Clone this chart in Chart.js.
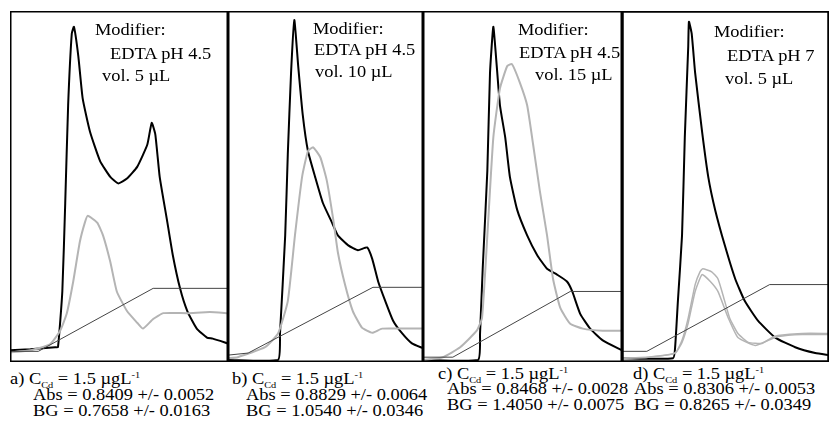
<!DOCTYPE html>
<html>
<head>
<meta charset="utf-8">
<script src="https://cdn.jsdelivr.net/npm/chart.js@4.4.1/dist/chart.umd.min.js"></script>
<style>
  body { margin: 0; background: #fff; }
  #wrap { position: relative; width: 830px; height: 439px; overflow: hidden; }
  .panel { position: absolute; top: 11px; height: 351px; }
  .txt { position: absolute; font-family: "Liberation Serif", "DejaVu Serif", serif; font-size: 16px; line-height: 18px; color: #000; white-space: nowrap; transform: scaleX(1.15); transform-origin: 0 0; }
  .sub { font-size: 9px; position: relative; top: 4px; }
  .sup { font-size: 9px; position: relative; top: -6px; }
</style>
</head>
<body>
<div id="wrap">
  <div class="panel" style="left:10px;width:218px"><canvas id="pA"></canvas></div>
  <div class="panel" style="left:228px;width:195px"><canvas id="pB"></canvas></div>
  <div class="panel" style="left:423px;width:199px"><canvas id="pC"></canvas></div>
  <div class="panel" style="left:622px;width:207px"><canvas id="pD"></canvas></div>

  <div class="txt" style="left:95px;top:21px">Modifier:</div>
  <div class="txt" style="left:110px;top:45px">EDTA pH 4.5</div>
  <div class="txt" style="left:102px;top:67px">vol. 5 µL</div>

  <div class="txt" style="left:313px;top:20px">Modifier:</div>
  <div class="txt" style="left:314px;top:41px">EDTA pH 4.5</div>
  <div class="txt" style="left:315px;top:63px">vol. 10 µL</div>

  <div class="txt" style="left:518px;top:21px">Modifier:</div>
  <div class="txt" style="left:519px;top:44px">EDTA pH 4.5</div>
  <div class="txt" style="left:535px;top:66px">vol. 15 µL</div>

  <div class="txt" style="left:714px;top:23px">Modifier:</div>
  <div class="txt" style="left:727px;top:47px">EDTA pH 7</div>
  <div class="txt" style="left:725px;top:70px">vol. 5 µL</div>

  <div class="txt" style="left:10px;top:370px">a) C<span class="sub">Cd</span> = 1.5 µgL<span class="sup">-1</span></div>
  <div class="txt" style="left:33px;top:386px">Abs = 0.8409 +/- 0.0052</div>
  <div class="txt" style="left:33px;top:402px">BG = 0.7658 +/- 0.0163</div>

  <div class="txt" style="left:232px;top:370px">b) C<span class="sub">Cd</span> = 1.5 µgL<span class="sup">-1</span></div>
  <div class="txt" style="left:246px;top:386px">Abs = 0.8829 +/- 0.0064</div>
  <div class="txt" style="left:246px;top:402px">BG = 1.0540 +/- 0.0346</div>

  <div class="txt" style="left:438px;top:365px">c) C<span class="sub">Cd</span> = 1.5 µgL<span class="sup">-1</span></div>
  <div class="txt" style="left:447px;top:380px">Abs = 0.8468 +/- 0.0028</div>
  <div class="txt" style="left:447px;top:396px">BG = 1.4050 +/- 0.0075</div>

  <div class="txt" style="left:633px;top:365px">d) C<span class="sub">Cd</span> = 1.5 µgL<span class="sup">-1</span></div>
  <div class="txt" style="left:634px;top:380px">Abs = 0.8306 +/- 0.0053</div>
  <div class="txt" style="left:634px;top:396px">BG = 0.8265 +/- 0.0349</div>
</div>

<script>
// time axis (s) and absorbance

// a) pH 4.5, 5 uL
const aBlackT = [0, 0.28, 0.62, 0.66, 0.72, 0.76, 0.80, 0.85, 0.88, 0.94, 1.00, 1.10, 1.24, 1.38, 1.49, 1.61, 1.75, 1.89, 1.95, 2.00, 2.06, 2.16, 2.24, 2.34, 2.44, 2.57, 2.71, 2.79, 3.00];
const aBlackA = [0.034, 0.037, 0.043, 0.043, 0.205, 0.462, 0.746, 0.954, 0.974, 0.889, 0.766, 0.670, 0.584, 0.538, 0.519, 0.533, 0.567, 0.632, 0.695, 0.661, 0.538, 0.413, 0.311, 0.214, 0.148, 0.097, 0.071, 0.068, 0.054];
const aGrayT = [0, 0.28, 0.55, 0.69, 0.78, 0.87, 0.96, 1.03, 1.07, 1.20, 1.28, 1.38, 1.47, 1.61, 1.75, 1.83, 1.97, 2.11, 2.44, 2.75, 3.00];
const aGrayA = [0.028, 0.034, 0.051, 0.091, 0.140, 0.234, 0.348, 0.405, 0.425, 0.405, 0.368, 0.291, 0.205, 0.148, 0.114, 0.097, 0.125, 0.142, 0.142, 0.145, 0.142];
const aRampT = [0, 0.39, 1.97, 3.00];
const aRampA = [0.031, 0.031, 0.214, 0.214];

// b) pH 4.5, 10 uL
const bBlackT = [0, 0.77, 0.80, 0.88, 0.92, 0.97, 1.02, 1.08, 1.15, 1.23, 1.34, 1.46, 1.60, 1.69, 1.85, 2.00, 2.14, 2.22, 2.31, 2.42, 2.54, 2.68, 2.83, 3.00];
const bBlackA = [0.006, 0.006, 0.083, 0.368, 0.604, 0.840, 0.994, 0.860, 0.718, 0.613, 0.538, 0.462, 0.405, 0.368, 0.339, 0.325, 0.333, 0.299, 0.234, 0.177, 0.120, 0.083, 0.054, 0.040];
const bGrayT = [0, 0.15, 0.57, 0.77, 0.92, 1.03, 1.14, 1.23, 1.31, 1.42, 1.52, 1.62, 1.69, 1.80, 1.92, 2.06, 2.22, 2.37, 2.72, 3.00];
const bGrayA = [0.011, 0.014, 0.043, 0.083, 0.177, 0.368, 0.538, 0.613, 0.624, 0.595, 0.527, 0.413, 0.319, 0.225, 0.148, 0.100, 0.085, 0.097, 0.097, 0.097];
const bRampT = [0, 0.31, 2.23, 3.00];
const bRampA = [0.020, 0.026, 0.217, 0.217];

// c) pH 4.5, 15 uL
const cBlackT = [0, 0.83, 0.86, 0.90, 0.97, 1.01, 1.06, 1.10, 1.16, 1.24, 1.31, 1.42, 1.57, 1.72, 1.87, 2.02, 2.17, 2.25, 2.37, 2.52, 2.71, 3.00];
const cBlackA = [0.006, 0.006, 0.083, 0.271, 0.556, 0.840, 0.974, 0.889, 0.746, 0.652, 0.538, 0.442, 0.368, 0.311, 0.271, 0.254, 0.234, 0.205, 0.140, 0.097, 0.063, 0.034];
const cGrayT = [0, 0.30, 0.56, 0.81, 0.89, 0.97, 1.06, 1.16, 1.27, 1.34, 1.46, 1.57, 1.66, 1.76, 1.87, 1.96, 2.07, 2.22, 2.41, 2.71, 3.00];
const cGrayA = [0.006, 0.014, 0.043, 0.091, 0.128, 0.368, 0.652, 0.795, 0.860, 0.866, 0.812, 0.746, 0.632, 0.499, 0.368, 0.242, 0.157, 0.111, 0.097, 0.091, 0.091];
const cRampT = [0, 0.45, 2.22, 3.00];
const cRampA = [0.014, 0.014, 0.205, 0.205];

// d) pH 7, 5 uL
const dBlackT = [0, 0.74, 0.77, 0.81, 0.87, 0.91, 0.96, 0.97, 1.01, 1.06, 1.16, 1.25, 1.35, 1.49, 1.64, 1.78, 1.97, 2.22, 2.51, 2.80, 3.00];
const dBlackA = [0.011, 0.011, 0.043, 0.177, 0.368, 0.652, 0.917, 0.989, 0.954, 0.840, 0.670, 0.538, 0.442, 0.339, 0.242, 0.177, 0.120, 0.071, 0.043, 0.026, 0.020];
const dGray1T = [0, 0.38, 0.77, 0.87, 0.96, 1.06, 1.13, 1.17, 1.30, 1.39, 1.46, 1.56, 1.68, 1.83, 2.03, 2.17, 2.26, 2.61, 3.00];
const dGray1A = [0.011, 0.014, 0.026, 0.063, 0.128, 0.225, 0.262, 0.271, 0.262, 0.242, 0.197, 0.128, 0.083, 0.057, 0.054, 0.071, 0.077, 0.083, 0.083];
const dGray2T = [0, 0.38, 0.77, 0.87, 0.96, 1.06, 1.16, 1.28, 1.39, 1.54, 1.68, 1.93, 2.12, 2.26, 2.61, 3.00];
const dGray2A = [0.011, 0.014, 0.026, 0.057, 0.114, 0.205, 0.254, 0.234, 0.205, 0.128, 0.071, 0.048, 0.063, 0.074, 0.080, 0.080];
const dRampT = [0, 0.36, 2.14, 3.00];
const dRampA = [0.031, 0.031, 0.225, 0.225];

const pts = (t, a) => t.map((v, i) => ({ x: v, y: a[i] }));

// frame round each plot area
const framePlugin = {
    id: 'frame',
    afterDraw(chart) {
        const { ctx, chartArea: c } = chart;
        ctx.save();
        ctx.strokeStyle = '#000';
        ctx.lineWidth = chart.options.plugins.frame.width;
        ctx.strokeRect(c.left + 0.5, c.top + 0.5, c.right - c.left - 1, c.bottom - c.top - 1);
        ctx.restore();
    }
};

const line = (data, color, width, tension) => ({
    data: data,
    borderColor: color,
    borderWidth: width,
    pointRadius: 0,
    tension: tension,
    fill: false
});

const makePanel = (id, sets, frameW) => {
    new Chart(document.getElementById(id), {
        type: 'line',
        data: { datasets: sets },
        options: {
            animation: false,
            responsive: true,
            maintainAspectRatio: false,
            layout: { padding: 0 },
            plugins: { legend: { display: false }, tooltip: { enabled: false }, frame: { width: frameW } },
            scales: {
                x: { type: 'linear', min: 0, max: 3, display: false },
                y: { min: 0, max: 1.02, display: false }
            }
        },
        plugins: [framePlugin]
    });
};

makePanel('pA', [
    line(pts(aRampT, aRampA), '#444', 1, 0),
    line(pts(aGrayT, aGrayA), '#b4b4b4', 2, 0.15),
    line(pts(aBlackT, aBlackA), '#000', 2, 0.15)
], 2);
makePanel('pB', [
    line(pts(bRampT, bRampA), '#444', 1, 0),
    line(pts(bGrayT, bGrayA), '#b4b4b4', 2, 0.15),
    line(pts(bBlackT, bBlackA), '#000', 2, 0.15)
], 2);
makePanel('pC', [
    line(pts(cRampT, cRampA), '#444', 1, 0),
    line(pts(cGrayT, cGrayA), '#b4b4b4', 2, 0.15),
    line(pts(cBlackT, cBlackA), '#000', 2, 0.15)
], 2);
makePanel('pD', [
    line(pts(dRampT, dRampA), '#444', 1, 0),
    line(pts(dGray1T, dGray1A), '#b4b4b4', 1.5, 0.15),
    line(pts(dGray2T, dGray2A), '#b4b4b4', 1.5, 0.15),
    line(pts(dBlackT, dBlackA), '#000', 2, 0.15)
], 2.5);
</script>
</body>
</html>
